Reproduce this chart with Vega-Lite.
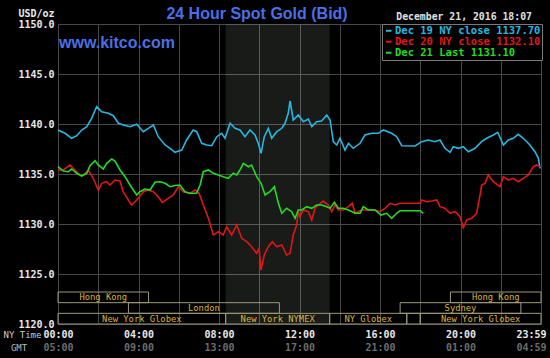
{
  "$schema": "https://vega.github.io/schema/vega-lite/v6.json",
  "width": 483,
  "height": 300,
  "autosize": {"type": "none"},
  "padding": {"left": 58, "top": 24, "right": 9, "bottom": 34},
  "background": "#000000",
  "config": {
    "view": {"fill": "#000000", "stroke": null},
    "axis": {
      "domain": false, "ticks": false, "tickSize": 0,
      "gridColor": "#484848", "gridWidth": 1,
      "labelFont": "DejaVu Sans Mono", "labelFontSize": 10, "labelFontWeight": "bold", "labelColor": "#e8e8e8",
      "titleFont": "DejaVu Sans Mono", "titleFontSize": 10, "titleFontWeight": "bold", "titleColor": "#e8e8e8",
      "labelFlush": false, "labelOverlap": false
    }
  },
  "datasets": {
    "prices": [
      {"s":"Dec 19","h":0,"p":1139.4},{"s":"Dec 19","h":0.35,"p":1139.07},{"s":"Dec 19","h":0.68,"p":1138.57},{"s":"Dec 19","h":0.93,"p":1138.83},{"s":"Dec 19","h":1.18,"p":1139.4},{"s":"Dec 19","h":1.43,"p":1139.73},{"s":"Dec 19","h":1.67,"p":1140.57},{"s":"Dec 19","h":1.92,"p":1141.73},{"s":"Dec 19","h":2.17,"p":1141.23},{"s":"Dec 19","h":2.5,"p":1141.07},{"s":"Dec 19","h":2.75,"p":1140.83},{"s":"Dec 19","h":3.0,"p":1140.07},{"s":"Dec 19","h":3.24,"p":1139.9},{"s":"Dec 19","h":3.58,"p":1139.73},{"s":"Dec 19","h":3.91,"p":1139.97},{"s":"Dec 19","h":4.24,"p":1139.23},{"s":"Dec 19","h":4.49,"p":1139.57},{"s":"Dec 19","h":4.74,"p":1139.9},{"s":"Dec 19","h":4.98,"p":1138.73},{"s":"Dec 19","h":5.32,"p":1137.9},{"s":"Dec 19","h":5.57,"p":1137.57},{"s":"Dec 19","h":5.81,"p":1137.17},{"s":"Dec 19","h":6.15,"p":1137.4},{"s":"Dec 19","h":6.39,"p":1138.4},{"s":"Dec 19","h":6.72,"p":1139.4},{"s":"Dec 19","h":6.89,"p":1139.23},{"s":"Dec 19","h":7.14,"p":1138.07},{"s":"Dec 19","h":7.39,"p":1137.9},{"s":"Dec 19","h":7.64,"p":1137.83},{"s":"Dec 19","h":7.89,"p":1138.73},{"s":"Dec 19","h":8.13,"p":1139.07},{"s":"Dec 19","h":8.3,"p":1138.57},{"s":"Dec 19","h":8.55,"p":1140.07},{"s":"Dec 19","h":8.8,"p":1139.57},{"s":"Dec 19","h":9.04,"p":1139.4},{"s":"Dec 19","h":9.29,"p":1138.73},{"s":"Dec 19","h":9.54,"p":1139.4},{"s":"Dec 19","h":9.79,"p":1138.9},{"s":"Dec 19","h":9.95,"p":1138.07},{"s":"Dec 19","h":10.09,"p":1137.07},{"s":"Dec 19","h":10.25,"p":1138.73},{"s":"Dec 19","h":10.45,"p":1139.57},{"s":"Dec 19","h":10.62,"p":1138.57},{"s":"Dec 19","h":10.87,"p":1139.23},{"s":"Dec 19","h":11.12,"p":1139.57},{"s":"Dec 19","h":11.28,"p":1140.07},{"s":"Dec 19","h":11.44,"p":1141.07},{"s":"Dec 19","h":11.53,"p":1142.3},{"s":"Dec 19","h":11.69,"p":1140.4},{"s":"Dec 19","h":11.94,"p":1140.9},{"s":"Dec 19","h":12.19,"p":1140.23},{"s":"Dec 19","h":12.44,"p":1140.5},{"s":"Dec 19","h":12.61,"p":1139.73},{"s":"Dec 19","h":12.85,"p":1140.23},{"s":"Dec 19","h":13.1,"p":1140.3},{"s":"Dec 19","h":13.35,"p":1140.9},{"s":"Dec 19","h":13.52,"p":1140.4},{"s":"Dec 19","h":13.68,"p":1138.23},{"s":"Dec 19","h":13.85,"p":1137.9},{"s":"Dec 19","h":14.01,"p":1138.57},{"s":"Dec 19","h":14.26,"p":1137.4},{"s":"Dec 19","h":14.43,"p":1138.07},{"s":"Dec 19","h":14.67,"p":1137.57},{"s":"Dec 19","h":15.01,"p":1138.07},{"s":"Dec 19","h":15.25,"p":1138.9},{"s":"Dec 19","h":15.59,"p":1139.07},{"s":"Dec 19","h":15.92,"p":1139.07},{"s":"Dec 19","h":16.16,"p":1139.4},{"s":"Dec 19","h":16.58,"p":1139.07},{"s":"Dec 19","h":16.83,"p":1138.73},{"s":"Dec 19","h":17.08,"p":1137.83},{"s":"Dec 19","h":17.74,"p":1137.8},{"s":"Dec 19","h":18.07,"p":1138.23},{"s":"Dec 19","h":18.4,"p":1138.4},{"s":"Dec 19","h":18.73,"p":1138.23},{"s":"Dec 19","h":18.98,"p":1138.4},{"s":"Dec 19","h":19.23,"p":1137.57},{"s":"Dec 19","h":19.48,"p":1137.17},{"s":"Dec 19","h":19.64,"p":1137.73},{"s":"Dec 19","h":19.89,"p":1137.57},{"s":"Dec 19","h":20.14,"p":1137.73},{"s":"Dec 19","h":20.39,"p":1137.23},{"s":"Dec 19","h":20.72,"p":1137.57},{"s":"Dec 19","h":21.05,"p":1138.23},{"s":"Dec 19","h":21.3,"p":1138.57},{"s":"Dec 19","h":21.63,"p":1138.9},{"s":"Dec 19","h":21.85,"p":1139.17},{"s":"Dec 19","h":22.13,"p":1137.9},{"s":"Dec 19","h":22.38,"p":1138.4},{"s":"Dec 19","h":22.62,"p":1138.57},{"s":"Dec 19","h":22.87,"p":1138.97},{"s":"Dec 19","h":23.12,"p":1138.57},{"s":"Dec 19","h":23.45,"p":1137.9},{"s":"Dec 19","h":23.7,"p":1137.23},{"s":"Dec 19","h":23.87,"p":1136.57},{"s":"Dec 19","h":23.95,"p":1135.57},
      {"s":"Dec 20","h":0,"p":1135.4},{"s":"Dec 20","h":0.26,"p":1135.4},{"s":"Dec 20","h":0.6,"p":1135.9},{"s":"Dec 20","h":0.84,"p":1135.4},{"s":"Dec 20","h":1.09,"p":1134.9},{"s":"Dec 20","h":1.26,"p":1134.9},{"s":"Dec 20","h":1.51,"p":1135.4},{"s":"Dec 20","h":1.75,"p":1134.57},{"s":"Dec 20","h":2.0,"p":1133.4},{"s":"Dec 20","h":2.17,"p":1134.07},{"s":"Dec 20","h":2.42,"p":1134.23},{"s":"Dec 20","h":2.58,"p":1133.9},{"s":"Dec 20","h":2.83,"p":1134.4},{"s":"Dec 20","h":3.08,"p":1134.3},{"s":"Dec 20","h":3.24,"p":1133.23},{"s":"Dec 20","h":3.49,"p":1132.4},{"s":"Dec 20","h":3.66,"p":1131.9},{"s":"Dec 20","h":3.91,"p":1132.4},{"s":"Dec 20","h":4.24,"p":1133.23},{"s":"Dec 20","h":4.49,"p":1133.4},{"s":"Dec 20","h":4.74,"p":1133.23},{"s":"Dec 20","h":4.98,"p":1132.73},{"s":"Dec 20","h":5.18,"p":1132.17},{"s":"Dec 20","h":5.48,"p":1132.57},{"s":"Dec 20","h":5.73,"p":1132.9},{"s":"Dec 20","h":5.98,"p":1133.73},{"s":"Dec 20","h":6.23,"p":1133.23},{"s":"Dec 20","h":6.56,"p":1133.07},{"s":"Dec 20","h":6.81,"p":1133.4},{"s":"Dec 20","h":7.01,"p":1133.07},{"s":"Dec 20","h":7.22,"p":1131.9},{"s":"Dec 20","h":7.47,"p":1130.57},{"s":"Dec 20","h":7.72,"p":1128.9},{"s":"Dec 20","h":7.97,"p":1129.23},{"s":"Dec 20","h":8.21,"p":1128.9},{"s":"Dec 20","h":8.38,"p":1129.73},{"s":"Dec 20","h":8.63,"p":1128.9},{"s":"Dec 20","h":8.88,"p":1129.9},{"s":"Dec 20","h":9.13,"p":1128.57},{"s":"Dec 20","h":9.38,"p":1128.23},{"s":"Dec 20","h":9.62,"p":1127.73},{"s":"Dec 20","h":9.87,"p":1127.07},{"s":"Dec 20","h":9.99,"p":1127.57},{"s":"Dec 20","h":10.09,"p":1125.4},{"s":"Dec 20","h":10.25,"p":1126.9},{"s":"Dec 20","h":10.45,"p":1127.73},{"s":"Dec 20","h":10.65,"p":1128.23},{"s":"Dec 20","h":10.87,"p":1127.73},{"s":"Dec 20","h":11.12,"p":1127.9},{"s":"Dec 20","h":11.36,"p":1126.9},{"s":"Dec 20","h":11.53,"p":1127.07},{"s":"Dec 20","h":11.69,"p":1128.9},{"s":"Dec 20","h":11.86,"p":1129.9},{"s":"Dec 20","h":11.94,"p":1131.23},{"s":"Dec 20","h":12.02,"p":1130.73},{"s":"Dec 20","h":12.19,"p":1131.4},{"s":"Dec 20","h":12.44,"p":1131.23},{"s":"Dec 20","h":12.61,"p":1130.4},{"s":"Dec 20","h":12.77,"p":1131.57},{"s":"Dec 20","h":12.93,"p":1131.9},{"s":"Dec 20","h":13.18,"p":1132.3},{"s":"Dec 20","h":13.43,"p":1131.9},{"s":"Dec 20","h":13.6,"p":1131.23},{"s":"Dec 20","h":13.76,"p":1131.9},{"s":"Dec 20","h":13.93,"p":1131.4},{"s":"Dec 20","h":14.18,"p":1131.4},{"s":"Dec 20","h":14.43,"p":1131.73},{"s":"Dec 20","h":14.62,"p":1132.07},{"s":"Dec 20","h":14.76,"p":1131.07},{"s":"Dec 20","h":15.09,"p":1131.4},{"s":"Dec 20","h":15.42,"p":1131.4},{"s":"Dec 20","h":15.75,"p":1131.4},{"s":"Dec 20","h":16.0,"p":1131.23},{"s":"Dec 20","h":16.25,"p":1131.57},{"s":"Dec 20","h":16.5,"p":1132.07},{"s":"Dec 20","h":16.75,"p":1131.9},{"s":"Dec 20","h":16.99,"p":1132.07},{"s":"Dec 20","h":17.99,"p":1132.07},{"s":"Dec 20","h":18.07,"p":1132.4},{"s":"Dec 20","h":18.32,"p":1132.23},{"s":"Dec 20","h":18.57,"p":1132.3},{"s":"Dec 20","h":18.82,"p":1132.4},{"s":"Dec 20","h":18.98,"p":1131.73},{"s":"Dec 20","h":19.23,"p":1131.57},{"s":"Dec 20","h":19.48,"p":1131.07},{"s":"Dec 20","h":19.73,"p":1131.23},{"s":"Dec 20","h":19.98,"p":1130.73},{"s":"Dec 20","h":20.14,"p":1129.63},{"s":"Dec 20","h":20.31,"p":1130.4},{"s":"Dec 20","h":20.56,"p":1130.57},{"s":"Dec 20","h":20.8,"p":1131.07},{"s":"Dec 20","h":20.97,"p":1132.9},{"s":"Dec 20","h":21.05,"p":1133.9},{"s":"Dec 20","h":21.22,"p":1134.07},{"s":"Dec 20","h":21.38,"p":1134.9},{"s":"Dec 20","h":21.63,"p":1134.23},{"s":"Dec 20","h":21.96,"p":1133.73},{"s":"Dec 20","h":22.13,"p":1134.73},{"s":"Dec 20","h":22.38,"p":1134.4},{"s":"Dec 20","h":22.62,"p":1134.57},{"s":"Dec 20","h":22.87,"p":1134.23},{"s":"Dec 20","h":23.12,"p":1134.57},{"s":"Dec 20","h":23.37,"p":1134.9},{"s":"Dec 20","h":23.62,"p":1135.73},{"s":"Dec 20","h":23.79,"p":1135.9},{"s":"Dec 20","h":23.95,"p":1135.73},
      {"s":"Dec 21","h":0,"p":1135.73},{"s":"Dec 21","h":0.26,"p":1135.3},{"s":"Dec 21","h":0.51,"p":1135.23},{"s":"Dec 21","h":0.68,"p":1135.5},{"s":"Dec 21","h":0.93,"p":1135.07},{"s":"Dec 21","h":1.18,"p":1134.8},{"s":"Dec 21","h":1.43,"p":1135.07},{"s":"Dec 21","h":1.59,"p":1135.83},{"s":"Dec 21","h":1.84,"p":1136.33},{"s":"Dec 21","h":2.0,"p":1135.9},{"s":"Dec 21","h":2.25,"p":1135.5},{"s":"Dec 21","h":2.42,"p":1136.07},{"s":"Dec 21","h":2.67,"p":1136.5},{"s":"Dec 21","h":2.83,"p":1136.3},{"s":"Dec 21","h":3.08,"p":1135.4},{"s":"Dec 21","h":3.33,"p":1134.73},{"s":"Dec 21","h":3.58,"p":1133.9},{"s":"Dec 21","h":3.74,"p":1133.4},{"s":"Dec 21","h":3.91,"p":1132.9},{"s":"Dec 21","h":4.07,"p":1133.23},{"s":"Dec 21","h":4.32,"p":1133.5},{"s":"Dec 21","h":4.57,"p":1133.4},{"s":"Dec 21","h":4.82,"p":1134.17},{"s":"Dec 21","h":5.07,"p":1134.23},{"s":"Dec 21","h":5.32,"p":1134.07},{"s":"Dec 21","h":5.57,"p":1133.73},{"s":"Dec 21","h":5.81,"p":1133.85},{"s":"Dec 21","h":6.06,"p":1133.9},{"s":"Dec 21","h":6.31,"p":1133.23},{"s":"Dec 21","h":6.56,"p":1133.07},{"s":"Dec 21","h":6.89,"p":1133.07},{"s":"Dec 21","h":7.06,"p":1133.9},{"s":"Dec 21","h":7.22,"p":1135.23},{"s":"Dec 21","h":7.47,"p":1135.4},{"s":"Dec 21","h":7.72,"p":1135.07},{"s":"Dec 21","h":7.97,"p":1134.9},{"s":"Dec 21","h":8.21,"p":1134.73},{"s":"Dec 21","h":8.46,"p":1134.57},{"s":"Dec 21","h":8.71,"p":1135.07},{"s":"Dec 21","h":8.88,"p":1134.9},{"s":"Dec 21","h":9.04,"p":1135.4},{"s":"Dec 21","h":9.21,"p":1136.07},{"s":"Dec 21","h":9.46,"p":1135.73},{"s":"Dec 21","h":9.62,"p":1135.9},{"s":"Dec 21","h":9.87,"p":1134.73},{"s":"Dec 21","h":10.09,"p":1134.07},{"s":"Dec 21","h":10.29,"p":1132.9},{"s":"Dec 21","h":10.53,"p":1133.23},{"s":"Dec 21","h":10.75,"p":1133.73},{"s":"Dec 21","h":10.95,"p":1132.07},{"s":"Dec 21","h":11.12,"p":1131.07},{"s":"Dec 21","h":11.36,"p":1131.57},{"s":"Dec 21","h":11.61,"p":1131.23},{"s":"Dec 21","h":11.78,"p":1130.57},{"s":"Dec 21","h":11.94,"p":1131.4},{"s":"Dec 21","h":12.11,"p":1131.4},{"s":"Dec 21","h":12.36,"p":1131.73},{"s":"Dec 21","h":12.61,"p":1131.57},{"s":"Dec 21","h":12.85,"p":1131.9},{"s":"Dec 21","h":13.1,"p":1131.9},{"s":"Dec 21","h":13.35,"p":1131.73},{"s":"Dec 21","h":13.52,"p":1131.57},{"s":"Dec 21","h":13.73,"p":1132.17},{"s":"Dec 21","h":13.93,"p":1131.57},{"s":"Dec 21","h":14.18,"p":1131.57},{"s":"Dec 21","h":14.43,"p":1131.4},{"s":"Dec 21","h":14.76,"p":1131.07},{"s":"Dec 21","h":15.01,"p":1131.07},{"s":"Dec 21","h":15.17,"p":1131.73},{"s":"Dec 21","h":15.42,"p":1131.4},{"s":"Dec 21","h":15.75,"p":1131.4},{"s":"Dec 21","h":16.05,"p":1130.9},{"s":"Dec 21","h":16.33,"p":1131.07},{"s":"Dec 21","h":16.58,"p":1130.57},{"s":"Dec 21","h":16.83,"p":1131.07},{"s":"Dec 21","h":16.99,"p":1131.33},{"s":"Dec 21","h":17.99,"p":1131.33},{"s":"Dec 21","h":18.15,"p":1131.07}
    ],
    "sessions": [
      {"label":"Hong Kong","row":"1","start":0,"end":4.5},
      {"label":"London","row":"2","start":3.5,"end":11.0},
      {"label":"New York Globex","row":"3","start":0,"end":8.33},
      {"label":"New York NYMEX","row":"3","start":8.33,"end":13.5},
      {"label":"NY Globex","row":"3","start":13.5,"end":17.33},
      {"label":"","row":"3","start":17.33,"end":18.0},
      {"label":"New York Globex","row":"3","start":18.0,"end":24},
      {"label":"Sydney","row":"2","start":17.0,"end":23.0},
      {"label":"Hong Kong","row":"1","start":19.5,"end":24}
    ]
  },
  "layer": [
    {
      "layer": [
        {
          "data": {"values": [{}]},
          "mark": {"type": "rect", "fill": "#f0fff0", "opacity": 0.105},
          "encoding": {
            "x": {"datum": 8.333, "type": "quantitative",
              "scale": {"domain": [0, 24], "nice": false, "zero": false},
              "axis": {
                "orient": "bottom", "values": [0,2,4,6,8,10,12,14,16,18,20,22,24], "grid": true,
                "labelExpr": "datum.value % 4 != 0 ? '' : (datum.value == 24 ? '23:59' : (datum.value < 10 ? '0' : '') + datum.value + ':00')",
                "labelPadding": 10, "labelBaseline": "middle",
                "labelOffset": {"condition": {"test": "datum.value == 24", "value": -10}, "value": 0},
                "title": "NY Time", "titleX": -55, "titleY": 10, "titleAlign": "left", "titleBaseline": "middle",
                "titleFontWeight": "normal", "titleFontSize": 9, "titleColor": "#cccccc"
              }},
            "x2": {"datum": 13.5}
          }
        },
        {
          "data": {"name": "prices"},
          "mark": {"type": "line", "strokeWidth": 1.6, "interpolate": "linear"},
          "encoding": {
            "x": {"field": "h", "type": "quantitative"},
            "y": {"field": "p", "type": "quantitative",
              "scale": {"domain": [1120, 1150], "nice": false, "zero": false},
              "axis": {
                "values": [1120,1125,1130,1135,1140,1145,1150], "format": ".1f", "grid": true,
                "labelPadding": 4, "labelBaseline": "middle",
                "title": "USD/oz", "titleAngle": 0, "titleX": -4, "titleY": -11, "titleAlign": "right", "titleBaseline": "middle"
              }},
            "color": {"field": "s", "type": "nominal",
              "scale": {"domain": ["Dec 19", "Dec 20", "Dec 21"], "range": ["#26b8e2", "#e01616", "#22dc22"]},
              "legend": {
                "orient": "none", "legendX": 324, "legendY": 0, "title": null,
                "symbolType": "stroke", "symbolSize": 30, "symbolStrokeWidth": 2,
                "labelFont": "DejaVu Sans Mono", "labelFontSize": 10.5, "labelFontWeight": "bold",
                "labelOffset": 1, "rowPadding": 0, "padding": 1.5, "labelLimit": 300,
                "fillColor": "#000000", "strokeColor": "#7a7a7a",
                "labelExpr": "datum.label == 'Dec 19' ? 'Dec 19 NY close 1137.70' : (datum.label == 'Dec 20' ? 'Dec 20 NY close 1132.10' : 'Dec 21 Last 1131.10')",
                "encode": {"labels": {"update": {"fill": {"signal": "scale('color', datum.value)"}}}}
              }}
          }
        },
        {
          "data": {"values": [{}]},
          "mark": {"type": "text", "text": "www.kitco.com", "font": "Liberation Sans", "fontSize": 16, "fontWeight": "bold", "color": "#4b6fe6", "align": "left", "baseline": "middle"},
          "encoding": {"x": {"datum": 0.05}, "y": {"datum": 1148.13}}
        },
        {
          "data": {"values": [{}]},
          "mark": {"type": "text", "text": "24 Hour Spot Gold (Bid)", "font": "Liberation Sans", "fontSize": 16, "fontWeight": "bold", "color": "#4b6fe6", "align": "center", "baseline": "middle"},
          "encoding": {"x": {"datum": 9.89}, "y": {"datum": 1151.05}}
        },
        {
          "data": {"values": [{}]},
          "mark": {"type": "text", "text": "December 21, 2016 18:07", "font": "DejaVu Sans Mono", "fontSize": 9.8, "fontWeight": "bold", "color": "#e0e0e0", "align": "right", "baseline": "middle"},
          "encoding": {"x": {"datum": 23.55}, "y": {"datum": 1150.7}}
        }
      ]
    },
    {
      "data": {"name": "sessions"},
      "transform": [{"calculate": "(datum.start + datum.end) / 2", "as": "mid"}],
      "layer": [
        {
          "mark": {"type": "rect", "fillOpacity": 0, "stroke": "#9c9a78", "strokeWidth": 1},
          "encoding": {
            "x": {"field": "start", "type": "quantitative",
              "scale": {"domain": [0, 24], "nice": false, "zero": false},
              "axis": {
                "orient": "bottom", "values": [0,4,8,12,16,20,24], "grid": false,
                "labelExpr": "datum.value == 24 ? '04:59' : ((datum.value + 5) % 24 < 10 ? '0' : '') + ((datum.value + 5) % 24) + ':00'",
                "labelColor": "#6c6c6c", "labelPadding": 23, "labelBaseline": "middle",
                "labelOffset": {"condition": {"test": "datum.value == 24", "value": -10}, "value": 0},
                "title": "GMT", "titleX": -39.5, "titleY": 23, "titleAlign": "center", "titleBaseline": "middle",
                "titleFontWeight": "normal", "titleFontSize": 9, "titleColor": "#bbbbbb"
              }},
            "x2": {"field": "end"},
            "y": {"field": "row", "type": "ordinal",
              "scale": {"domain": ["1", "2", "3"], "range": [268, 300], "paddingInner": 0, "paddingOuter": 0},
              "axis": null}
          }
        },
        {
          "mark": {"type": "text", "font": "DejaVu Sans Mono", "fontSize": 8.8, "color": "#dcb23c", "align": "center", "baseline": "middle"},
          "encoding": {
            "x": {"field": "mid", "type": "quantitative"},
            "y": {"field": "row", "type": "ordinal"},
            "text": {"field": "label"}
          }
        }
      ]
    }
  ],
  "resolve": {"scale": {"y": "independent"}, "axis": {"x": "independent"}}
}
